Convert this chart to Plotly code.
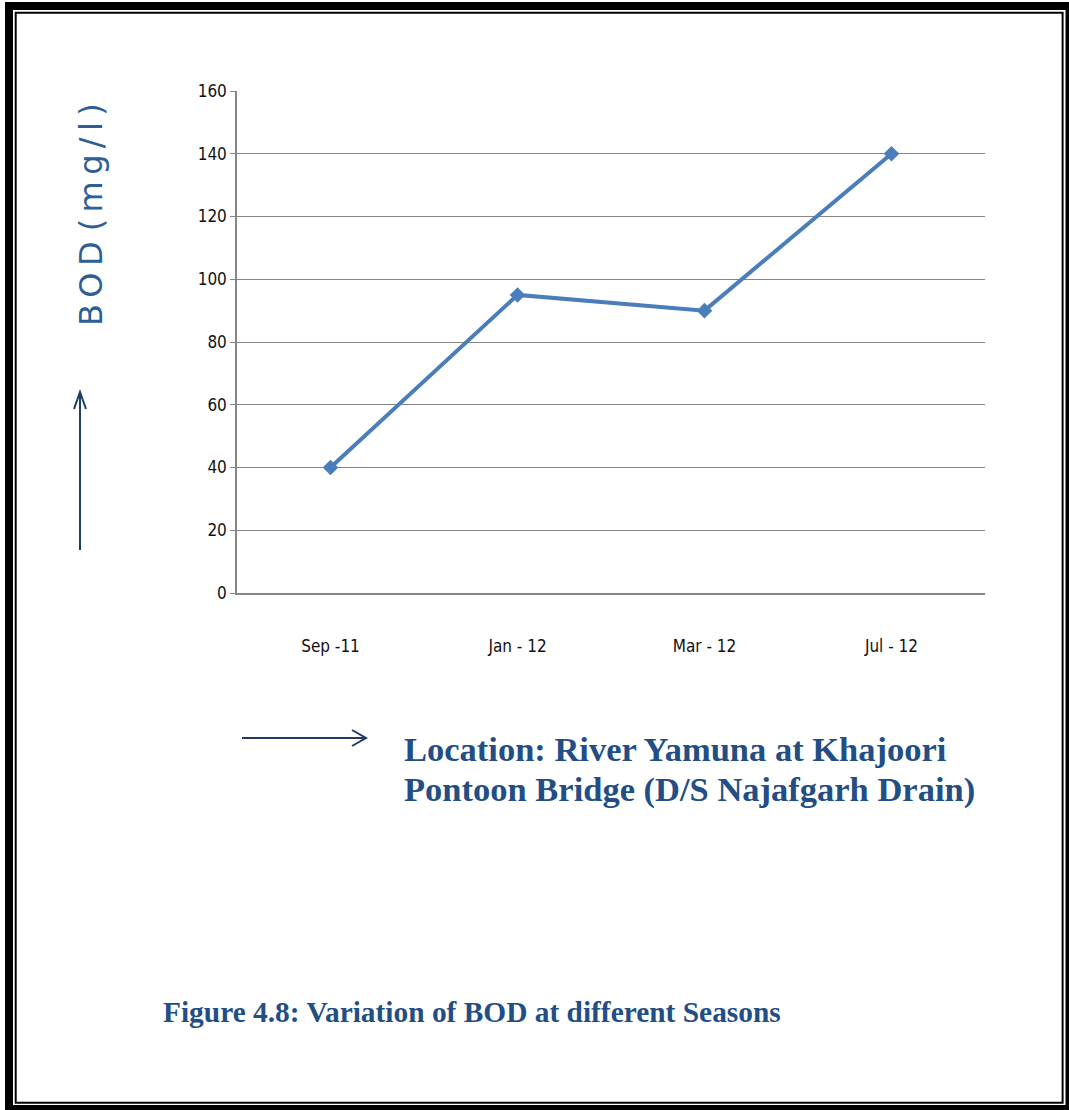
import plotly.graph_objects as go

# Seasonal BOD readings at Khajoori Pontoon Bridge
seasons = ["Sep -11", "Jan - 12", "Mar - 12", "Jul - 12"]
bod_mg_per_l = [40, 95, 90, 140]
y_ticks = [0, 20, 40, 60, 80, 100, 120, 140, 160]

W, H = 1069, 1110
L, R, T, B = 237, 985, 91, 593  # plot area in pixels


def px(x):
    return (x - L) / (R - L)


def py(y):
    return (B - y) / (B - T)


line_blue = "#4A7EBB"
text_blue = "#234E85"
arrow_navy = "#1F3B66"

fig = go.Figure()
fig.add_trace(go.Scatter(
    x=seasons, y=bod_mg_per_l, mode="lines+markers",
    line=dict(color=line_blue, width=4),
    marker=dict(symbol="diamond", size=12, color=line_blue),
    showlegend=False, hoverinfo="x+y",
))

shapes = []
# double page frame
shapes.append(dict(type="rect", xref="paper", yref="paper",
                   x0=px(9), x1=px(1069.5), y0=py(1109), y1=py(6),
                   line=dict(color="black", width=8)))
shapes.append(dict(type="rect", xref="paper", yref="paper",
                   x0=px(15.7), x1=px(1062.6), y0=py(1102.7), y1=py(12.7),
                   line=dict(color="black", width=2)))

# vertical arrow beside the y title
ax = 80
shapes.append(dict(type="line", xref="paper", yref="paper",
                   x0=px(ax), x1=px(ax), y0=py(550), y1=py(392),
                   line=dict(color=arrow_navy, width=2)))
shapes.append(dict(type="path", xref="paper", yref="paper",
                   path=f"M {px(ax-6)},{py(409)} L {px(ax)},{py(392)} L {px(ax+6)},{py(409)}",
                   line=dict(color=arrow_navy, width=2)))

# horizontal arrow before the location label
ay = 738
shapes.append(dict(type="line", xref="paper", yref="paper",
                   x0=px(242), x1=px(366), y0=py(ay), y1=py(ay),
                   line=dict(color=arrow_navy, width=2)))
shapes.append(dict(type="path", xref="paper", yref="paper",
                   path=f"M {px(352)},{py(ay-8)} L {px(366)},{py(ay)} L {px(352)},{py(ay+8)}",
                   line=dict(color=arrow_navy, width=2)))

ts = "\u2009"  # thin space for the tracked-out axis title
y_title = ts.join("BOD") + " " + ts.join("(mg/l)")

annotations = [
    dict(text=y_title, textangle=-90, xref="paper", yref="paper",
         x=px(91), y=py(215), xanchor="center", yanchor="middle", showarrow=False,
         font=dict(family="DejaVu Sans", size=32, color="#2E5E97")),
    dict(text="<b>Location: River Yamuna at Khajoori</b>", xref="paper", yref="paper",
         x=px(402), y=py(749), xanchor="left", yanchor="middle", showarrow=False,
         font=dict(family="Liberation Serif", size=34.5, color=text_blue)),
    dict(text="<b>Pontoon Bridge (D/S Najafgarh Drain)</b>", xref="paper", yref="paper",
         x=px(402), y=py(789), xanchor="left", yanchor="middle", showarrow=False,
         font=dict(family="Liberation Serif", size=34.5, color=text_blue)),
    dict(text="<b>Figure 4.8: Variation of BOD at different Seasons</b>", xref="paper", yref="paper",
         x=px(161), y=py(1012), xanchor="left", yanchor="middle", showarrow=False,
         font=dict(family="Liberation Serif", size=29.4, color=text_blue)),
]

tick_font = dict(family="DejaVu Sans Condensed, Liberation Sans Narrow, Arial Narrow", size=17, color="#111111")

fig.update_layout(
    width=W, height=H,
    margin=dict(l=L, r=W - R, t=T, b=H - B, pad=0),
    paper_bgcolor="white", plot_bgcolor="white",
    shapes=shapes, annotations=annotations,
    xaxis=dict(range=[-0.5, 3.5], showgrid=False, showline=True, linecolor="#868686", linewidth=1.5,
               ticks="", tickfont=tick_font, ticklabelstandoff=37, zeroline=False),
    yaxis=dict(range=[0, 160], tickvals=y_ticks, showgrid=True, gridcolor="#868686", gridwidth=1,
               showline=True, linecolor="#868686", linewidth=1.5, ticks="outside", ticklen=5,
               tickcolor="#868686", tickfont=tick_font, zeroline=False),
)

fig.write_html("out.html")
